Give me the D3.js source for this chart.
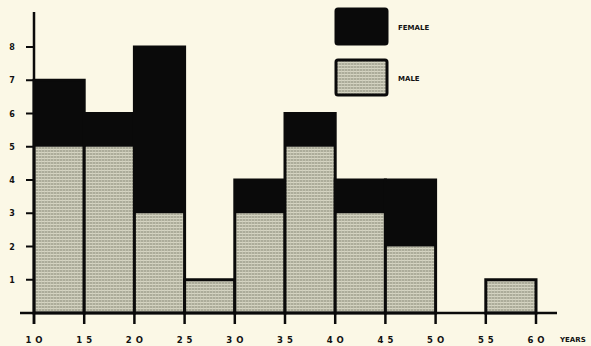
<!DOCTYPE html>
<html>
<head>
<meta charset="utf-8">
<script src="https://cdn.jsdelivr.net/npm/d3@7"></script>
<style>
  body { margin: 0; background: #fbf8e6; }
  svg { display: block; }
  text { font-family: "DejaVu Sans", sans-serif; font-weight: bold; fill: #111; }
</style>
</head>
<body>
<div id="chart"></div>
<script>
const binStarts = [10, 15, 20, 25, 30, 35, 40, 45, 50, 55]
const male = [5, 5, 3, 1, 3, 5, 3, 2, 0, 1]
const female = [2, 1, 5, 0, 1, 1, 1, 2, 0, 0]
const xTicks = [10, 15, 20, 25, 30, 35, 40, 45, 50, 55, 60]
const yTicks = [1, 2, 3, 4, 5, 6, 7, 8]
const legendItems = ['FEMALE', 'MALE']

const width = 591
const height = 346

const svg = d3.select('#chart').append('svg')
  .attr('width', width)
  .attr('height', height)

svg.append('rect').attr('width', width).attr('height', height).attr('fill', '#fbf8e6')

// hatch used for the male bars
const defs = svg.append('defs')
const pat = defs.append('pattern')
  .attr('id', 'hatch')
  .attr('patternUnits', 'userSpaceOnUse')
  .attr('width', 3)
  .attr('height', 3)
pat.append('rect').attr('width', 3).attr('height', 3).attr('fill', '#acac9a')
pat.append('rect').attr('y', 2).attr('width', 3).attr('height', 1).attr('fill', '#d6d5c3')
pat.append('rect').attr('x', 2).attr('width', 1).attr('height', 3).attr('fill', '#cccbb9').attr('opacity', 0.6)

const x = d3.scaleLinear().domain([10, 60]).range([34, 536])
const y = d3.scaleLinear().domain([0, 8]).range([313, 47])

const bars = svg.append('g')
binStarts.forEach((b, i) => {
  const total = male[i] + female[i]
  if (total === 0) return
  if (male[i] > 0) {
    bars.append('rect')
      .attr('x', x(b))
      .attr('y', y(male[i]))
      .attr('width', x(b + 5) - x(b))
      .attr('height', y(0) - y(male[i]))
      .attr('fill', 'url(#hatch)')
  }
  if (female[i] > 0) {
    bars.append('rect')
      .attr('x', x(b))
      .attr('y', y(total))
      .attr('width', x(b + 5) - x(b))
      .attr('height', y(male[i]) - y(total))
      .attr('fill', '#0a0a0a')
  }
  bars.append('rect')
    .attr('x', x(b))
    .attr('y', y(total))
    .attr('width', x(b + 5) - x(b))
    .attr('height', y(0) - y(total))
    .attr('fill', 'none')
    .attr('stroke', '#0a0a0a')
    .attr('stroke-width', 3)
})

// axes
svg.append('line')
  .attr('x1', 20).attr('x2', 557)
  .attr('y1', y(0)).attr('y2', y(0))
  .attr('stroke', '#0a0a0a').attr('stroke-width', 2.5)
svg.append('line')
  .attr('x1', x(10)).attr('x2', x(10))
  .attr('y1', 12).attr('y2', 324)
  .attr('stroke', '#0a0a0a').attr('stroke-width', 2.5)

const xg = svg.append('g')
xg.selectAll('line').data(xTicks).join('line')
  .attr('x1', d => x(d)).attr('x2', d => x(d))
  .attr('y1', y(0)).attr('y2', 324)
  .attr('stroke', '#0a0a0a').attr('stroke-width', 2.5)
xg.selectAll('text').data(xTicks).join('text')
  .attr('x', d => x(d) + 2)
  .attr('y', 343)
  .attr('text-anchor', 'middle')
  .attr('font-size', 8.5)
  .attr('letter-spacing', 4)
  .text(d => String(d).replace('0', 'O'))
svg.append('text')
  .attr('x', 560).attr('y', 342)
  .attr('font-size', 7)
  .text('YEARS')

const yg = svg.append('g')
yg.selectAll('line').data(yTicks).join('line')
  .attr('x1', 26).attr('x2', x(10))
  .attr('y1', d => y(d)).attr('y2', d => y(d))
  .attr('stroke', '#0a0a0a').attr('stroke-width', 2)
yg.selectAll('text').data(yTicks).join('text')
  .attr('x', 12)
  .attr('y', d => y(d) + 3)
  .attr('text-anchor', 'middle')
  .attr('font-size', 8)
  .text(d => d)

// legend
const legend = svg.append('g')
legendItems.forEach((name, i) => {
  const top = 9 + i * 51
  legend.append('rect')
    .attr('x', 336).attr('y', top)
    .attr('width', 51).attr('height', 35)
    .attr('rx', 2)
    .attr('fill', i === 0 ? '#0a0a0a' : 'url(#hatch)')
    .attr('stroke', '#0a0a0a').attr('stroke-width', 3)
  legend.append('text')
    .attr('x', 398).attr('y', top + 21)
    .attr('font-size', 7)
    .text(name)
})
</script>
</body>
</html>
